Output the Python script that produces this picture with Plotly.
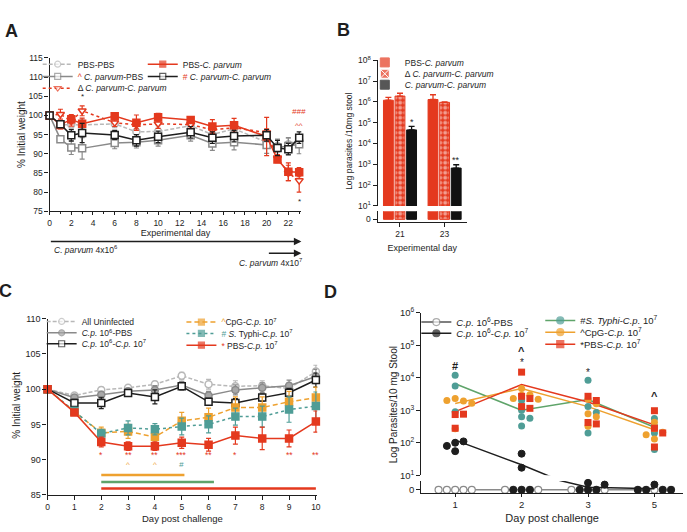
import math
import plotly.graph_objects as go

W, H = 687, 532
def px(x): return x / W
def py(y): return 1 - y / H

FONT = "Liberation Sans, Arial, Helvetica, sans-serif"
INK = "#1e1e1e"
RED = "#E4391E"
ORANGE = "#EEA12F"
TEAL = "#4F9D96"
GREEN = "#5FA46A"
GRAY = "#8A8A8A"
LGRAY = "#B8B8B8"

# ---------------- Panel A data ----------------
a_days = [0, 1, 2, 3, 6, 8, 10, 13, 15, 17, 20, 21, 22, 23]
a_pbs_pbs = [100, 97.5, 97.6, 97.5, 97.8, 95.7, 95.8, 97.3, 95.0, 96.5, 93.0, 92.0, 92.5, 93.5]
a_pbs_pbs_err = [0, 0.8, 1.0, 1.5, 1.0, 1.5, 1.5, 1.2, 1.5, 1.5, 1.5, 1.5, 1.5, 1.5]
a_cp_pbs = [100, 93.8, 91.6, 91.4, 92.8, 93.0, 93.5, 94.8, 92.7, 93.0, 92.3, 91.6, 92.0, 92.5]
a_cp_pbs_err = [0, 0.5, 1.8, 2.8, 1.5, 1.5, 1.5, 1.5, 1.8, 2.0, 2.2, 2.2, 2.2, 2.5]
a_delta = [100, 100.3, 98.5, 101.2, 98.1, 97.5, 97.8, 97.6, 96.2, 96.8, 95.5, 88.8, 85.0, 83.0]
a_delta_err = [0, 1.3, 1.3, 1.3, 1.0, 1.0, 1.2, 1.0, 1.0, 1.5, 1.0, 1.0, 2.0, 3.0]
a_pbs_cp = [100, 97.5, 99.0, 97.8, 99.8, 98.1, 99.5, 98.8, 97.1, 97.4, 94.5, 88.5, 85.3, 85.2]
a_pbs_cp_err = [0, 1.0, 1.2, 1.5, 0.8, 2.0, 1.0, 0.8, 1.8, 1.8, 5.0, 0.8, 2.3, 1.2]
a_cp_cp = [100, 97.7, 94.8, 95.4, 94.9, 93.5, 94.4, 95.6, 94.2, 94.6, 94.8, 91.5, 91.2, 94.2]
a_cp_cp_err = [0, 0.8, 1.5, 2.5, 1.2, 1.5, 1.5, 1.5, 1.5, 1.5, 1.5, 2.0, 1.5, 1.5]
a_sig_text = ["*", "###", "^^", "*"]
a_sig_day = [3, 23, 23, 23]
a_sig_level = [105.0, 100.9, 97.4, 77.6]

# ---------------- Panel B data ----------------
b_days = ["21", "23"]
b_pbs_cp = [1.2e6, 1.3e6]
b_pbs_cp_err = [0.45e6, 0.9e6]
b_delta = [1.9e6, 0.95e6]
b_delta_err = [0.7e6, 0.05e6]
b_cp_cp = [4.5e4, 660]
b_cp_cp_err = [2.1e4, 290]
b_sig_text = ["*", "**"]

# ---------------- Panel C data ----------------
c_days = [0, 1, 2, 3, 4, 5, 6, 7, 8, 9, 10]
c_uninf = [100, 99.1, 99.9, 100.2, 100.7, 101.9, 100.7, 100.4, 100.5, 100.1, 102.5]
c_uninf_err = [0, 0.3, 0.4, 0.3, 0.4, 0.5, 0.7, 0.8, 0.7, 0.8, 0.9]
c_cp_pbs = [100, 98.8, 99.2, 99.7, 99.9, 100.6, 99.1, 99.9, 100.2, 100.5, 101.8]
c_cp_pbs_err = [0, 0.3, 0.5, 0.4, 0.6, 0.5, 0.6, 0.7, 0.7, 0.8, 1.0]
c_cp_cp = [100, 98.05, 98.05, 99.45, 98.9, 100.4, 98.2, 98.05, 98.8, 99.5, 101.3]
c_cp_cp_err = [0, 0.5, 0.8, 0.4, 1.0, 0.5, 0.5, 0.6, 0.5, 0.6, 1.0]
c_cpg = [100, 96.8, 93.8, 94.0, 93.2, 95.5, 96.0, 97.4, 97.4, 98.2, 98.8]
c_cpg_err = [0, 0.5, 0.8, 1.0, 1.0, 1.2, 1.3, 1.5, 1.5, 1.5, 1.5]
c_typhi = [100, 96.9, 93.7, 94.5, 94.3, 94.7, 95.0, 96.1, 96.1, 97.1, 97.6]
c_typhi_err = [0, 0.5, 0.6, 1.0, 0.8, 1.2, 1.2, 1.2, 1.5, 1.8, 2.0]
c_pbs = [100, 96.7, 92.5, 91.9, 91.9, 92.4, 92.1, 93.4, 93.0, 93.0, 95.4]
c_pbs_err = [0, 0.4, 0.7, 0.6, 0.6, 0.8, 0.9, 1.2, 1.6, 1.2, 1.5]
c_star_days = [2, 3, 4, 5, 6, 7, 9, 10]
c_star_text = ["*", "**", "**", "***", "**", "*", "**", "**"]
c_caret_days = [3, 4]
c_hash_days = [5]
c_period_start = [2, 2, 2]
c_period_end = [5.1, 6.2, 10.0]

# ---------------- Panel D data ----------------
d_days = ["1", "2", "3", "5"]
d_cp_pbs = [[0, 0, 0, 0, 0], [0, 0, 0, 0, 0], [0, 0, 0, 0, 0], [0, 0, 0, 0, 0]]
d_cp_cp = [[100, 110, 55, 80], [46, 17, 0, 0, 0], [8, 0, 0, 0, 6], [6, 0, 0, 0, 0]]
d_typhi = [[12000, 5600, 900], [2000, 1000, 630, 570, 330], [8500, 1300, 850, 200], [560, 330, 200, 62]]
d_cpg = [[2300, 1950, 2000, 1650, 270], [4700, 3000, 2900, 2300, 2200], [2200, 1600, 780, 630, 320], [430, 270, 210, 175, 130]]
d_pbs = [[740, 760, 280], [15000, 2700, 2300, 1300, 1150], [2700, 2000, 420, 380], [970, 280, 200, 74]]
d_mean_cp_pbs = [0, 0, 0, 0]
d_mean_cp_cp = [120, 21, 3.0, 1.3]
d_mean_typhi = [6600, 1000, 2150, 300]
d_mean_cpg = [1620, 4700, 1300, 250]
d_mean_pbs = [910, 6200, 1800, 355]
d_sig_text = ["#", "*", "^", "*", "^"]
d_sig_day = [0, 1, 1, 2, 3]
d_sig_level = [2.3e4, 3.0e4, 6.5e4, 1.5e4, 2.7e3]

fig = go.Figure()
legends = {}


def new_legend(text_x, row_y, size=8.5):
    k = len(legends) + 1
    name = "legend" if k == 1 else f"legend{k}"
    legends[name] = dict(x=px(text_x - 40), y=py(row_y), xanchor="left", yanchor="middle",
                         bgcolor="rgba(0,0,0,0)", borderwidth=0, itemwidth=30, itemsizing="trace",
                         font=dict(family=FONT, size=size, color=INK))
    return name


def legend_key(name, leg, xa, ya, color, dash="solid", symbol="circle", fill=None, mline=None,
               mode="lines+markers", size=6, mlw=1.2):
    fig.add_trace(go.Scatter(
        x=[None], y=[None], mode=mode, name=name, legend=leg, xaxis=xa, yaxis=ya,
        line=dict(color=color, width=1.5, dash=dash),
        marker=dict(symbol=symbol, size=[size], color=fill or color,
                    line=dict(color=mline or color, width=mlw))))


def err(arr, color):
    return dict(type="data", array=arr, color=color, thickness=1.2, width=2.5)


def series(x, y, e, name, color, dash, symbol, fill, xa, ya, leg):
    fig.add_trace(go.Scatter(
        x=x, y=y, error_y=err(e, color), mode="lines+markers", name=name, showlegend=False,
        line=dict(color=color, width=1.5, dash=dash),
        marker=dict(symbol=symbol, size=7, color=fill, line=dict(color=color, width=1.5)),
        xaxis=xa, yaxis=ya, cliponaxis=False))
    legend_key(name, leg, xa, ya, color, dash, symbol, fill)


def red(t):
    return f'<span style="color:{RED}">{t}</span>'


CPV = "<i>C. parvum</i>"

# ---- Panel A traces
series(a_days, a_pbs_pbs, a_pbs_pbs_err, "PBS-PBS", LGRAY, "4px,2px", "circle", "white",
       "x", "y", new_legend(76, 58.5))
series(a_days, a_cp_pbs, a_cp_pbs_err, red("^") + " " + CPV + "-PBS", GRAY, "solid", "square", "white",
       "x", "y", new_legend(76, 71))
series(a_days, a_delta, a_delta_err, "Δ " + CPV + "-" + CPV, RED, "dot", "triangle-down", "white",
       "x", "y", new_legend(76, 83))
series(a_days, a_pbs_cp, a_pbs_cp_err, "PBS-" + CPV, RED, "solid", "square", RED,
       "x", "y", new_legend(182, 58.5))
series(a_days, a_cp_cp, a_cp_cp_err, red("#") + " " + CPV + "-" + CPV, INK, "solid", "square", "white",
       "x", "y", new_legend(182, 71))

# ---- Panel B traces
b_specs = [
    ("PBS-" + CPV, b_pbs_cp, b_pbs_cp_err, RED, None, "square", RED, RED),
    ("Δ " + CPV + "-" + CPV, b_delta, b_delta_err, RED,
     dict(shape=".", fgcolor="white", fillmode="overlay", size=5, solidity=0.5), "square-x", RED, "white"),
    (CPV + "-" + CPV, b_cp_cp, b_cp_cp_err, "#111111", None, "square", "#111111", "#111111"),
]
b_rows = [56.7, 68.3, 79.5]
for i, (nm, vals, e, col, pat, sym, kfill, kline) in enumerate(b_specs):
    mk = dict(color=col, line=dict(color=col, width=1))
    if pat:
        mk["pattern"] = pat
    fig.add_trace(go.Bar(x=b_days, y=vals, name=nm, marker=mk, offsetgroup=str(i), showlegend=False,
                         error_y=dict(type="data", array=e, arrayminus=[0] * len(e), symmetric=False,
                                      color=col, thickness=1.3, width=3),
                         xaxis="x2", yaxis="y2"))
    fig.add_trace(go.Bar(x=b_days, y=vals, marker=mk, offsetgroup=str(i), showlegend=False,
                         xaxis="x3", yaxis="y3"))
    legend_key(nm, new_legend(406, b_rows[i]), "x2", "y2", col, symbol=sym, fill=kfill, mline=kline,
               mode="markers", size=9, mlw=1)

# ---- Panel C traces
CP = "<i>C.p.</i>"
series(c_days, c_uninf, c_uninf_err, "All Uninfected", LGRAY, "4px,2px", "circle", "white",
       "x4", "y4", new_legend(80, 321.7))
series(c_days, c_cp_pbs, c_cp_pbs_err, CP + " 10<sup>6</sup>-PBS", GRAY, "solid", "circle", "#a8a8a8",
       "x4", "y4", new_legend(80, 333.3))
series(c_days, c_cp_cp, c_cp_cp_err, CP + " 10<sup>6</sup>-" + CP + " 10<sup>7</sup>", INK, "solid", "square",
       "white", "x4", "y4", new_legend(80, 344.5))
series(c_days, c_cpg, c_cpg_err, f'<span style="color:{ORANGE}">^</span>CpG-' + CP + " 10<sup>7</sup>",
       ORANGE, "5px,3px", "square", ORANGE, "x4", "y4", new_legend(221, 322.3))
series(c_days, c_typhi, c_typhi_err, f'<span style="color:{TEAL}">#</span> <i>S.</i> Typhi-' + CP + " 10<sup>7</sup>",
       TEAL, "dot", "square", TEAL, "x4", "y4", new_legend(221, 334))
series(c_days, c_pbs, c_pbs_err, red("*") + " PBS-" + CP + " 10<sup>7</sup>", RED, "solid", "square", RED,
       "x4", "y4", new_legend(221, 346))

# ---- Panel D traces
SLOT = 0.125


def swarm(values):
    placed, offs = [], []
    for v in values:
        yp = math.log10(v) * 33.2 if v >= 10 else v * 0.9 - 500
        slot = 0
        for s in [0, 1, -1, 2, -2, 3, -3, 4, -4]:
            if all(abs(yp - q) >= 6.5 for (q, t) in placed if t == s):
                slot = s
                break
        placed.append((yp, slot))
        offs.append(slot * SLOT)
    return offs


def d_points(groups, color, symbol, fill, lw):
    up_x, up_y, lo_x, lo_y = [], [], [], []
    for i, vals in enumerate(groups):
        for v, o in zip(vals, swarm(vals)):
            if v >= 10:
                up_x.append(i + o); up_y.append(v)
            else:
                lo_x.append(i + o); lo_y.append(v)
    mk = dict(symbol=symbol, size=7, color=fill, line=dict(color=color, width=lw))
    if up_x:
        fig.add_trace(go.Scatter(x=up_x, y=up_y, mode="markers", marker=mk, showlegend=False,
                                 xaxis="x5", yaxis="y5", cliponaxis=False))
    if lo_x:
        fig.add_trace(go.Scatter(x=lo_x, y=lo_y, mode="markers", marker=mk, showlegend=False,
                                 xaxis="x6", yaxis="y6", cliponaxis=False))


def d_line(means, color, upper=True, lower=True):
    xs = list(range(len(means)))
    if upper:
        fig.add_trace(go.Scatter(x=xs, y=means, mode="lines", line=dict(color=color, width=1.5),
                                 showlegend=False, xaxis="x5", yaxis="y5"))
    if lower:
        fig.add_trace(go.Scatter(x=xs, y=means, mode="lines", line=dict(color=color, width=1.5),
                                 showlegend=False, xaxis="x6", yaxis="y6"))


d_line(d_mean_cp_pbs, GRAY, upper=False)
d_points(d_cp_pbs, GRAY, "circle", "white", 1.2)
d_line(d_mean_cp_cp, INK)
d_points(d_cp_cp, INK, "circle", INK, 1)
d_line(d_mean_typhi, GREEN, lower=False)
d_line(d_mean_cpg, ORANGE, lower=False)
d_line(d_mean_pbs, RED, lower=False)
d_points(d_typhi, TEAL, "circle", TEAL, 0)
d_points(d_cpg, ORANGE, "circle", ORANGE, 0)
d_points(d_pbs, RED, "square", RED, 0)

legend_key(CP + " 10<sup>6</sup>-PBS", new_legend(458, 322.3, 9.5), "x5", "y5", "#555555", fill="white",
           mline=GRAY, size=7)
legend_key(CP + " 10<sup>6</sup>-" + CP + " 10<sup>7</sup>", new_legend(458, 333.8, 9.5), "x5", "y5", INK,
           size=7)
legend_key("#<i>S. Typhi</i>-" + CP + " 10<sup>7</sup>", new_legend(583, 320.7, 9.5), "x5", "y5", GREEN,
           fill=TEAL, mline=TEAL, size=7)
legend_key("^CpG-" + CP + " 10<sup>7</sup>", new_legend(583, 332.7, 9.5), "x5", "y5", ORANGE, size=7)
legend_key("*PBS-" + CP + " 10<sup>7</sup>", new_legend(583, 345, 9.5), "x5", "y5", RED, symbol="square",
           size=7)

# ---------------- Axes ----------------
def ax(**kw):
    base = dict(showline=True, linecolor=INK, linewidth=1.3, ticks="outside", ticklen=4, tickwidth=1.2,
                tickcolor=INK, showgrid=False, zeroline=False, fixedrange=True,
                tickfont=dict(family=FONT, size=8.5, color=INK))
    base.update(kw)
    return base


TF = dict(family=FONT, size=9, color=INK)
layout_axes = dict(
    xaxis=ax(domain=[px(48), px(302)], anchor="y", range=[0, 23.2], tickmode="linear", tick0=0, dtick=2,
             ticklen=3, minor=dict(ticks="outside", ticklen=2, dtick=1, tick0=0, tickcolor=INK),
             title=dict(text="Experimental day", font=TF, standoff=3)),
    yaxis=ax(domain=[py(209), py(52)], anchor="x", range=[75, 115], tickmode="linear", tick0=75, dtick=5),
    xaxis2=ax(domain=[px(379), px(469)], anchor="y2", visible=False, matches="x3", type="category"),
    yaxis2=ax(domain=[py(203.5), py(54.5)], anchor="x2", type="log", range=[1, 8],
              tickmode="array", tickvals=[10 ** k for k in range(1, 9)],
              ticktext=[f"10<sup>{k}</sup>" for k in range(1, 9)]),
    xaxis3=ax(domain=[px(379), px(469)], anchor="y3", type="category", range=[-0.5, 1.5],
              title=dict(text="Experimental day", font=TF, standoff=6)),
    yaxis3=ax(domain=[py(220), py(209)], anchor="x3", range=[-3.33, 10], tickmode="array",
              tickvals=[0], ticktext=["0"]),
    xaxis4=ax(domain=[px(46), px(318)], anchor="y4", range=[0, 10.05], tickmode="linear", tick0=0, dtick=1,
              title=dict(text="Day post challenge", font=dict(family=FONT, size=9.5, color=INK), standoff=4)),
    yaxis4=ax(domain=[py(499), py(319)], anchor="x4", range=[85, 110], tickmode="linear", tick0=85, dtick=5,
              tickfont=dict(family=FONT, size=9, color=INK)),
    xaxis5=ax(domain=[px(423), px(687)], anchor="y5", visible=False, matches="x6"),
    yaxis5=ax(domain=[py(479), py(313)], anchor="x5", type="log", range=[1, 6],
              tickmode="array", tickvals=[10 ** k for k in range(1, 7)],
              ticktext=[f"10<sup>{k}</sup>" for k in range(1, 7)],
              tickfont=dict(family=FONT, size=9.5, color=INK)),
    xaxis6=ax(domain=[px(423), px(687)], anchor="y6", range=[-0.51, 3.43], tickmode="array",
              tickvals=list(range(len(d_days))), ticktext=d_days, ticklen=3,
              tickfont=dict(family=FONT, size=9.5, color=INK),
              title=dict(text="Day post challenge", font=dict(family=FONT, size=11, color=INK), standoff=4)),
    yaxis6=ax(domain=[py(497), py(485)], anchor="x6", range=[-3.33, 10], tickmode="array",
              tickvals=[0], ticktext=["0"], tickfont=dict(family=FONT, size=9.5, color=INK)),
)

# ---------------- Annotations ----------------
anns = []


def note(x, y, text, size=9, color=INK, xref="paper", yref="paper", xanchor="center", yanchor="middle",
         angle=0, bold=False):
    anns.append(dict(x=x, y=y, text=f"<b>{text}</b>" if bold else text, xref=xref, yref=yref,
                     xanchor=xanchor, yanchor=yanchor, textangle=angle, showarrow=False,
                     font=dict(family=FONT, size=size, color=color)))


note(px(10), py(25), "A", 18, bold=True)
note(px(345), py(24), "B", 18, bold=True)
note(px(4), py(291), "C", 18, bold=True)
note(px(331), py(292), "D", 18, bold=True)
note(px(19), py(130), "% Initial weight", 10, angle=-90)
note(px(350), py(137), "Log parasites /10mg stool", 8.5, angle=-90)
note(px(15), py(407), "% Initial weight", 10, angle=-90)
note(px(395), py(407), "Log Parasites/10 mg Stool", 10, angle=-90)
note(px(50), py(248), CPV + " 4x10<sup>6</sup>", 8.5, xanchor="left")
note(px(305), py(261), CPV + " 4x10<sup>7</sup>", 8.5, xanchor="right")

# infection-schedule arrows under panel A (paper position, pixel length)
for x_start, y_row in [(50, 240), (268, 252)]:
    anns.append(dict(x=px(302), y=py(y_row), xref="paper", yref="paper", axref="pixel", ayref="pixel",
                     ax=-(302 - x_start), ay=0, text="", showarrow=True, arrowhead=2, arrowsize=1,
                     arrowwidth=1.5, arrowcolor=INK, standoff=0, startstandoff=0))

for t, d, lv in zip(a_sig_text, a_sig_day, a_sig_level):
    col = RED if t in ("###", "^^") else INK
    note(d, lv, f"<i>{t}</i>" if t == "###" else t, 8, col, "x", "y")

for i, t in enumerate(b_sig_text):
    v = b_cp_cp[i] + b_cp_cp_err[i]
    note(i + 0.26, math.log10(v) + 0.22, t, 9, INK, "x2", "y2")

for d, t in zip(c_star_days, c_star_text):
    note(d, 90.6, t, 8.5, RED, "x4", "y4")
for d in c_caret_days:
    note(d, 89.3, "^", 8, ORANGE, "x4", "y4")
for d in c_hash_days:
    note(d, 89.3, "<i>#</i>", 8, TEAL, "x4", "y4")

for t, d, lv in zip(d_sig_text, d_sig_day, d_sig_level):
    note(d, math.log10(lv), t, 11 if t != "*" else 10, INK, "x5", "y5", bold=(t != "*"))

shapes = []
for s, e, col, lvl in zip(c_period_start, c_period_end, [ORANGE, GREEN, RED], [87.8, 86.8, 85.9]):
    shapes.append(dict(type="line", xref="x4", yref="y4", x0=s, x1=e, y0=lvl, y1=lvl,
                       line=dict(color=col, width=2.5)))

fig.update_layout(
    width=W, height=H, margin=dict(l=0, r=0, t=0, b=0),
    paper_bgcolor="white", plot_bgcolor="rgba(0,0,0,0)",
    font=dict(family=FONT, color=INK),
    barmode="group", bargap=0.22, bargroupgap=0.15,
    annotations=anns, shapes=shapes,
    **layout_axes, **legends,
)

fig.write_html("out.html")
